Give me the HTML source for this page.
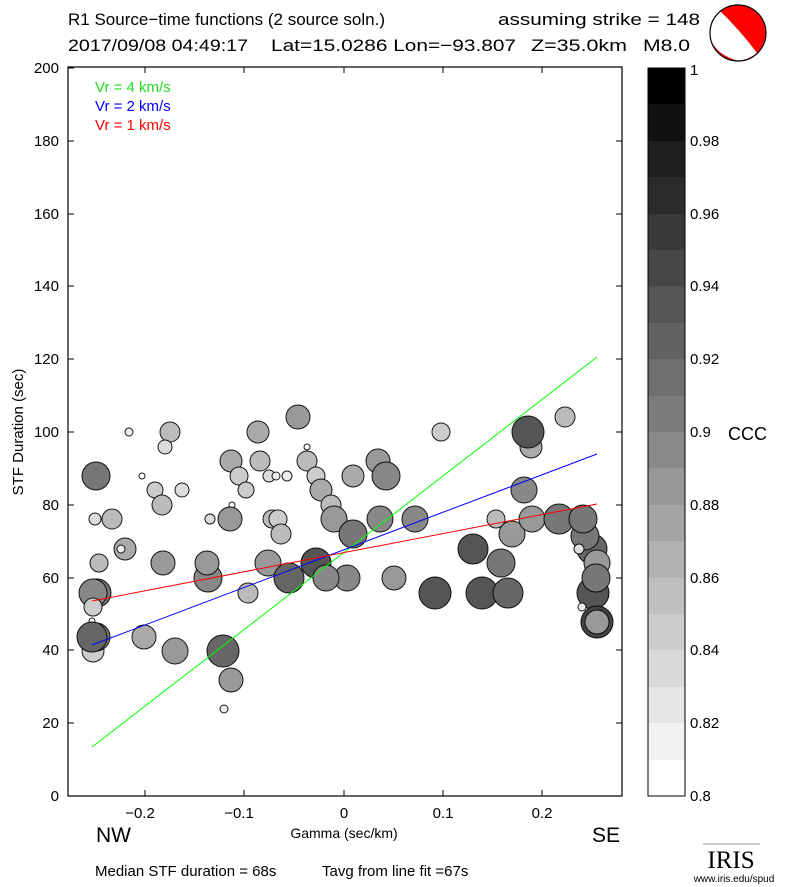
<!DOCTYPE html>
<html><head><meta charset="utf-8"><style>
html,body{margin:0;padding:0;background:#fff;width:785px;height:887px;overflow:hidden}
svg text{font-family:"Liberation Sans",sans-serif}
</style></head><body>
<svg width="785" height="887" xmlns="http://www.w3.org/2000/svg">
<text x="68" y="25" font-size="17">R1 Source−time functions (2 source soln.)</text>
<text x="498" y="25" font-size="17" textLength="202" lengthAdjust="spacingAndGlyphs">assuming strike = 148</text>
<g font-size="17">
<text x="68" y="51" textLength="180" lengthAdjust="spacingAndGlyphs">2017/09/08 04:49:17</text>
<text x="271" y="51" textLength="245" lengthAdjust="spacingAndGlyphs">Lat=15.0286 Lon=−93.807</text>
<text x="531" y="51" textLength="96" lengthAdjust="spacingAndGlyphs">Z=35.0km</text>
<text x="643" y="51" textLength="47" lengthAdjust="spacingAndGlyphs">M8.0</text>
</g>
<defs><clipPath id="bb"><circle cx="738" cy="33" r="28"/></clipPath></defs>
<circle cx="738" cy="33" r="28" fill="#f00"/>
<path clip-path="url(#bb)" d="M718,9 Q740,30 757,53 Q748,60 738,61 Q722,58 716,50 Q708,40 710,28 Q712,16 718,9 Z" fill="#fff"/>
<path clip-path="url(#bb)" d="M709,36 Q716,56 740,61 L740,70 L700,70 Z" fill="#f00"/>
<circle cx="738" cy="33" r="28" fill="none" stroke="#000" stroke-width="1.2"/>
<g stroke="#000" stroke-width="1" stroke-opacity="0.9">
<circle cx="129" cy="432" r="4" fill="#eee"/>
<circle cx="170" cy="432" r="10" fill="#bbb"/>
<circle cx="165" cy="447" r="7" fill="#ddd"/>
<circle cx="258" cy="432" r="11" fill="#aaa"/>
<circle cx="298" cy="417" r="12" fill="#999"/>
<circle cx="307" cy="447" r="3" fill="#fff"/>
<circle cx="96" cy="476" r="14" fill="#777"/>
<circle cx="142" cy="476" r="3" fill="#fff"/>
<circle cx="231" cy="461" r="11" fill="#aaa"/>
<circle cx="239" cy="476" r="9" fill="#ccc"/>
<circle cx="246" cy="490" r="8" fill="#ccc"/>
<circle cx="260" cy="461" r="10" fill="#bbb"/>
<circle cx="269" cy="476" r="6" fill="#ddd"/>
<circle cx="276" cy="476" r="4" fill="#eee"/>
<circle cx="287" cy="476" r="5" fill="#eee"/>
<circle cx="307" cy="461" r="10" fill="#bbb"/>
<circle cx="316" cy="476" r="9" fill="#ccc"/>
<circle cx="321" cy="490" r="11" fill="#aaa"/>
<circle cx="331" cy="505" r="10" fill="#bbb"/>
<circle cx="334" cy="519" r="13" fill="#999"/>
<circle cx="353" cy="476" r="11" fill="#aaa"/>
<circle cx="155" cy="490" r="8" fill="#ccc"/>
<circle cx="182" cy="490" r="7" fill="#ddd"/>
<circle cx="162" cy="505" r="10" fill="#bbb"/>
<circle cx="232" cy="505" r="3" fill="#fff"/>
<circle cx="95" cy="519" r="6" fill="#ddd"/>
<circle cx="112" cy="519" r="10" fill="#bbb"/>
<circle cx="210" cy="519" r="5" fill="#ddd"/>
<circle cx="230" cy="519" r="12" fill="#999"/>
<circle cx="272" cy="519" r="9" fill="#bbb"/>
<circle cx="278" cy="519" r="9" fill="#ccc"/>
<circle cx="281" cy="534" r="10" fill="#bbb"/>
<circle cx="125" cy="549" r="11" fill="#aaa"/>
<circle cx="121" cy="549" r="4" fill="#eee"/>
<circle cx="99" cy="563" r="9" fill="#bbb"/>
<circle cx="163" cy="563" r="12" fill="#999"/>
<circle cx="208" cy="578" r="14" fill="#888"/>
<circle cx="207" cy="563" r="12" fill="#999"/>
<circle cx="248" cy="593" r="10" fill="#bbb"/>
<circle cx="268" cy="563" r="13" fill="#999"/>
<circle cx="289" cy="578" r="15" fill="#666"/>
<circle cx="316" cy="563" r="15" fill="#555"/>
<circle cx="347" cy="578" r="13" fill="#888"/>
<circle cx="326" cy="578" r="13" fill="#888"/>
<circle cx="97" cy="593" r="14" fill="#777"/>
<circle cx="93" cy="593" r="14" fill="#888"/>
<circle cx="93" cy="607" r="9" fill="#ccc"/>
<circle cx="92" cy="621" r="3" fill="#fff"/>
<circle cx="93" cy="651" r="11" fill="#ccc"/>
<circle cx="96" cy="637" r="14" fill="#777"/>
<circle cx="92" cy="637" r="15" fill="#666"/>
<circle cx="144" cy="637" r="12" fill="#aaa"/>
<circle cx="175" cy="651" r="13" fill="#999"/>
<circle cx="223" cy="651" r="16" fill="#666"/>
<circle cx="231" cy="680" r="12" fill="#999"/>
<circle cx="224" cy="709" r="4" fill="#eee"/>
<circle cx="441" cy="432" r="9" fill="#ccc"/>
<circle cx="565" cy="417" r="10" fill="#bbb"/>
<circle cx="531" cy="447" r="11" fill="#aaa"/>
<circle cx="528" cy="432" r="16" fill="#555"/>
<circle cx="378" cy="461" r="12" fill="#999"/>
<circle cx="386" cy="476" r="14" fill="#888"/>
<circle cx="380" cy="519" r="13" fill="#888"/>
<circle cx="415" cy="519" r="13" fill="#888"/>
<circle cx="353" cy="534" r="14" fill="#777"/>
<circle cx="496" cy="519" r="9" fill="#bbb"/>
<circle cx="512" cy="534" r="13" fill="#999"/>
<circle cx="532" cy="519" r="13" fill="#999"/>
<circle cx="559" cy="519" r="15" fill="#777"/>
<circle cx="524" cy="490" r="13" fill="#888"/>
<circle cx="473" cy="549" r="15" fill="#555"/>
<circle cx="501" cy="563" r="14" fill="#777"/>
<circle cx="394" cy="578" r="12" fill="#999"/>
<circle cx="435" cy="593" r="16" fill="#555"/>
<circle cx="482" cy="593" r="16" fill="#555"/>
<circle cx="508" cy="593" r="15" fill="#666"/>
<circle cx="592" cy="549" r="15" fill="#666"/>
<circle cx="585" cy="536" r="14" fill="#777"/>
<circle cx="583" cy="519" r="14" fill="#777"/>
<circle cx="579" cy="549" r="5" fill="#ddd"/>
<circle cx="593" cy="593" r="16" fill="#555"/>
<circle cx="597" cy="563" r="13" fill="#999"/>
<circle cx="596" cy="578" r="14" fill="#777"/>
<circle cx="582" cy="607" r="4" fill="#eee"/>
<circle cx="597" cy="622" r="16" fill="#444"/>
<circle cx="597" cy="622" r="12" fill="#999"/>
</g>
<line x1="92" y1="747" x2="597" y2="357" stroke="#0f0" stroke-width="1"/>
<line x1="92" y1="645" x2="597" y2="454" stroke="#00f" stroke-width="1"/>
<line x1="92" y1="601" x2="597" y2="504" stroke="#f00" stroke-width="1"/>
<rect x="68" y="67" width="554" height="729" fill="none" stroke="#000" stroke-width="1.2"/>
<g stroke="#000" stroke-width="1">
<line x1="68" y1="796" x2="74" y2="796"/><line x1="68" y1="723" x2="74" y2="723"/><line x1="68" y1="650" x2="74" y2="650"/><line x1="68" y1="578" x2="74" y2="578"/><line x1="68" y1="505" x2="74" y2="505"/><line x1="68" y1="432" x2="74" y2="432"/><line x1="68" y1="359" x2="74" y2="359"/><line x1="68" y1="286" x2="74" y2="286"/><line x1="68" y1="214" x2="74" y2="214"/><line x1="68" y1="141" x2="74" y2="141"/><line x1="68" y1="68" x2="74" y2="68"/>
<line x1="622" y1="796" x2="616" y2="796"/><line x1="622" y1="723" x2="616" y2="723"/><line x1="622" y1="650" x2="616" y2="650"/><line x1="622" y1="578" x2="616" y2="578"/><line x1="622" y1="505" x2="616" y2="505"/><line x1="622" y1="432" x2="616" y2="432"/><line x1="622" y1="359" x2="616" y2="359"/><line x1="622" y1="286" x2="616" y2="286"/><line x1="622" y1="214" x2="616" y2="214"/><line x1="622" y1="141" x2="616" y2="141"/>
<line x1="145" y1="796" x2="145" y2="790"/><line x1="244" y1="796" x2="244" y2="790"/><line x1="344" y1="796" x2="344" y2="790"/><line x1="443" y1="796" x2="443" y2="790"/><line x1="542" y1="796" x2="542" y2="790"/>
<line x1="145" y1="67" x2="145" y2="73"/><line x1="244" y1="67" x2="244" y2="73"/><line x1="344" y1="67" x2="344" y2="73"/><line x1="443" y1="67" x2="443" y2="73"/><line x1="542" y1="67" x2="542" y2="73"/>
</g>
<g font-size="15" text-anchor="end">
<text x="59" y="801">0</text><text x="59" y="728">20</text><text x="59" y="655">40</text><text x="59" y="583">60</text><text x="59" y="510">80</text><text x="59" y="437">100</text><text x="59" y="364">120</text><text x="59" y="291">140</text><text x="59" y="219">160</text><text x="59" y="146">180</text><text x="59" y="73">200</text>
</g>
<g font-size="15" text-anchor="middle">
<text x="140" y="818">−0.2</text><text x="239" y="818">−0.1</text><text x="344" y="818">0</text><text x="443" y="818">0.1</text><text x="542" y="818">0.2</text>
<text x="344" y="838" font-size="14">Gamma (sec/km)</text>
</g>
<text transform="translate(23,432) rotate(-90)" font-size="15" text-anchor="middle">STF Duration (sec)</text>
<text x="95" y="92" font-size="15" style="fill:#22dd22">Vr = 4 km/s</text>
<text x="95" y="111" font-size="15" fill="#00f">Vr = 2 km/s</text>
<text x="95" y="130" font-size="15" fill="#f00">Vr = 1 km/s</text>
<text x="96" y="842" font-size="21">NW</text>
<text x="592" y="842" font-size="21">SE</text>
<text x="95" y="876" font-size="15">Median STF duration = 68s</text>
<text x="322" y="876" font-size="15">Tavg from line fit =67s</text>
<g>
<rect x="648" y="68" width="37" height="37" fill="#000"/>
<rect x="648" y="104" width="37" height="37" fill="#111"/>
<rect x="648" y="141" width="37" height="37" fill="#1e1e1e"/>
<rect x="648" y="177" width="37" height="37" fill="#2b2b2b"/>
<rect x="648" y="214" width="37" height="37" fill="#393939"/>
<rect x="648" y="250" width="37" height="37" fill="#474747"/>
<rect x="648" y="286" width="37" height="37" fill="#555"/>
<rect x="648" y="323" width="37" height="37" fill="#626262"/>
<rect x="648" y="359" width="37" height="37" fill="#6f6f6f"/>
<rect x="648" y="396" width="37" height="37" fill="#7c7c7c"/>
<rect x="648" y="432" width="37" height="37" fill="#898989"/>
<rect x="648" y="468" width="37" height="37" fill="#979797"/>
<rect x="648" y="505" width="37" height="37" fill="#a4a4a4"/>
<rect x="648" y="541" width="37" height="37" fill="#b2b2b2"/>
<rect x="648" y="578" width="37" height="37" fill="#bfbfbf"/>
<rect x="648" y="614" width="37" height="37" fill="#cccccc"/>
<rect x="648" y="650" width="37" height="37" fill="#d9d9d9"/>
<rect x="648" y="687" width="37" height="37" fill="#e6e6e6"/>
<rect x="648" y="723" width="37" height="37" fill="#f2f2f2"/>
<rect x="648" y="760" width="37" height="36" fill="#fff"/>
<rect x="648" y="68" width="37" height="728" fill="none" stroke="#000" stroke-width="1"/>
</g>
<g font-size="15">
<text x="690" y="801">0.8</text><text x="690" y="728">0.82</text><text x="690" y="655">0.84</text><text x="690" y="583">0.86</text><text x="690" y="510">0.88</text><text x="690" y="437">0.9</text><text x="690" y="364">0.92</text><text x="690" y="291">0.94</text><text x="690" y="219">0.96</text><text x="690" y="146">0.98</text><text x="690" y="75">1</text>
<text x="728" y="440" font-size="18">CCC</text>
</g>
<line x1="703" y1="844" x2="760" y2="844" stroke="#999" stroke-width="1"/>
<text x="731" y="868" font-size="25" text-anchor="middle" style="font-family:'Liberation Serif',serif">IRIS</text>
<text x="734" y="882" font-size="10" text-anchor="middle">www.iris.edu/spud</text>
</svg>
</body></html>
